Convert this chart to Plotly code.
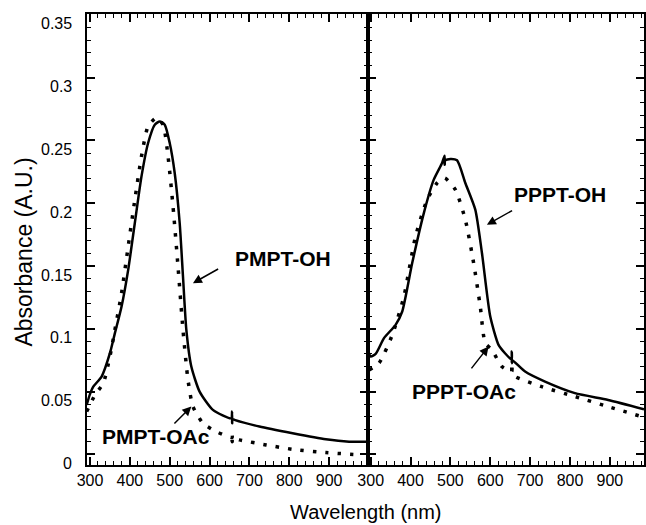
import plotly.graph_objects as go

# ---------------- data ----------------
# Left panel: PMPT
pmpt_oh_wl = [291.7, 300.0, 308.3, 329.2, 350.0, 362.5, 379.2, 395.8, 412.5, 429.2, 445.8, 462.5,
              475.0, 487.5, 500.0, 512.5, 525.0, 533.3, 541.7, 554.2, 575.0, 608.3, 654.2,
              656.5, 656.7, 656.9, 662.5, 725.0, 808.3, 891.7, 950.0, 996.0]
pmpt_oh_abs = [0.0395, 0.048, 0.054, 0.062, 0.0806, 0.0966, 0.1178, 0.147, 0.1843, 0.2214, 0.248, 0.2626,
               0.2652, 0.2626, 0.248, 0.2241, 0.1843, 0.1417, 0.0992, 0.070, 0.050, 0.0355, 0.0288,
               0.0341, 0.0249, 0.0282, 0.0275, 0.0222, 0.0169, 0.0121, 0.0102, 0.0102]

pmpt_oac_wl = [291.7, 312.5, 333.3, 350.0, 362.5, 379.2, 395.8, 412.5, 429.2, 445.8, 466.7,
               483.3, 495.8, 508.3, 520.8, 533.3, 545.8, 558.3, 583.3, 616.7, 656.3,
               656.5, 656.7, 656.9, 675.0, 741.7, 808.3, 891.7, 983.3]
pmpt_oac_abs = [0.0341, 0.0474, 0.0567, 0.078, 0.0992, 0.1285, 0.1656, 0.2028, 0.2373, 0.2613, 0.268,
                0.2626, 0.2373, 0.1975, 0.1497, 0.0992, 0.0594, 0.0381, 0.0249, 0.0182, 0.0135,
                0.0169, 0.0102, 0.0133, 0.0116, 0.0076, 0.0041, 0.0015, -0.0004]

# Right panel: PPPT
pppt_oh_wl = [291.6, 300.0, 312.4, 333.3, 362.4, 379.1, 404.1, 433.3, 458.2, 479.1,
              485.5, 485.7, 485.9, 499.9, 516.6, 537.4, 562.4, 579.1, 600.0, 620.75,
              637.0, 653.7, 653.9, 654.1, 654.3, 687.4, 737.4, 812.4, 895.75, 985.75]
pppt_oh_abs = [0.0846, 0.078, 0.0801, 0.0926, 0.1032, 0.1138, 0.1524, 0.1922, 0.2188, 0.2321,
               0.2379, 0.2307, 0.2340, 0.2353, 0.2342, 0.2161, 0.1949, 0.1604, 0.1098, 0.0873,
               0.0806, 0.0755, 0.0819, 0.0727, 0.0753, 0.066, 0.058, 0.0488, 0.0434, 0.036]

pppt_oac_wl = [295.75, 320.75, 354.1, 383.25, 412.4, 441.6, 466.6, 485.75, 512.4, 537.4,
               558.25, 574.9, 587.4, 604.1, 629.1, 653.7, 653.9, 654.1, 654.3, 662.4, 729.1,
               812.4, 895.75, 985.75]
pppt_oac_abs = [0.0673, 0.0727, 0.0952, 0.1258, 0.1736, 0.2028, 0.2161, 0.2201, 0.2108, 0.1869,
                0.1524, 0.1178, 0.0886, 0.0833, 0.070, 0.066, 0.0727, 0.0647, 0.065, 0.062, 0.054,
                0.0461, 0.0381, 0.0296]

x_tick_labels = ["300", "400", "500", "600", "700", "800", "900"]
x_tick_vals = [300, 400, 500, 600, 700, 800, 900]
y_tick_vals = [0, 0.05, 0.1, 0.15, 0.2, 0.25, 0.3, 0.35]
y_tick_labels = ["0", "0.05", "0.1", "0.15", "0.2", "0.25", "0.3", "0.35"]

# ---------------- layout constants ----------------
FONT = "Liberation Sans, Arial, Helvetica, sans-serif"
X_LEFT = [292.5, 996.75]
X_RIGHT = [292.5, 985.75]
Y_RANGE = [-0.0084, 0.3507]
SPLIT = 0.504

solid = dict(color="black", width=2.5, shape="spline", smoothing=0.6)
dotted = dict(color="black", width=3.5, dash="3.5px,9px", shape="spline", smoothing=0.6)

fig = go.Figure()
fig.add_trace(go.Scatter(x=pmpt_oh_wl, y=pmpt_oh_abs, mode="lines", line=solid,
                         xaxis="x", yaxis="y", showlegend=False, name="PMPT-OH"))
fig.add_trace(go.Scatter(x=pmpt_oac_wl, y=pmpt_oac_abs, mode="lines", line=dotted,
                         xaxis="x", yaxis="y", showlegend=False, name="PMPT-OAc"))
fig.add_trace(go.Scatter(x=pppt_oh_wl, y=pppt_oh_abs, mode="lines", line=solid,
                         xaxis="x2", yaxis="y2", showlegend=False, name="PPPT-OH"))
fig.add_trace(go.Scatter(x=pppt_oac_wl, y=pppt_oac_abs, mode="lines", line=dotted,
                         xaxis="x2", yaxis="y2", showlegend=False, name="PPPT-OAc"))

common = dict(showline=True, linecolor="black", linewidth=2, mirror="ticks",
              ticks="inside", ticklen=8, tickwidth=1.5, tickcolor="black",
              showgrid=False, zeroline=False)
tickfont = dict(family=FONT, size=16, color="black")

xcommon = dict(common, tickmode="array", tickvals=x_tick_vals, ticktext=x_tick_labels,
               tickfont=tickfont, ticklabelstandoff=0,
               minor=dict(ticks="inside", ticklen=4, tickwidth=1.2, tickcolor="black",
                          dtick=20, tick0=300, showgrid=False))
ycommon = dict(common, tickmode="array", tickvals=y_tick_vals, showticklabels=False,
               minor=dict(ticks="inside", ticklen=4, tickwidth=1.2, tickcolor="black",
                          dtick=0.01, tick0=0, showgrid=False))

fig.update_layout(
    width=646, height=525,
    margin=dict(l=87, r=0, t=14, b=60),
    paper_bgcolor="white", plot_bgcolor="white",
    xaxis=dict(xcommon, domain=[0, SPLIT], range=X_LEFT, anchor="y"),
    xaxis2=dict(xcommon, domain=[SPLIT, 1], range=X_RIGHT, anchor="y2"),
    yaxis=dict(ycommon, domain=[0, 1], range=Y_RANGE, anchor="x"),
    yaxis2=dict(ycommon, domain=[0, 1], range=Y_RANGE, anchor="x2"),
)

annotations = []
# y tick labels: in the reference they sit a little below their tick marks
for v, t in zip(y_tick_vals, y_tick_labels):
    annotations.append(dict(x=0, y=v, xref="paper", yref="y", text=t, showarrow=False,
                            font=tickfont, xanchor="right", yanchor="middle",
                            xshift=-13, yshift=-9))

lab_font = dict(family=FONT, size=21, color="black")
annotations += [
    # curve labels
    dict(x=783.25, y=0.1558, xref="x", yref="y", text="<b>PMPT-OH</b>", showarrow=False,
         font=lab_font, xanchor="center", yanchor="middle"),
    dict(x=464.5, y=0.0139, xref="x", yref="y", text="<b>PMPT-OAc</b>", showarrow=False,
         font=lab_font, xanchor="center", yanchor="middle"),
    dict(x=775, y=0.2068, xref="x2", yref="y2", text="<b>PPPT-OH</b>", showarrow=False,
         font=lab_font, xanchor="center", yanchor="middle"),
    dict(x=533.25, y=0.050, xref="x2", yref="y2", text="<b>PPPT-OAc</b>", showarrow=False,
         font=lab_font, xanchor="center", yanchor="middle"),
    # arrows
    dict(x=558.25, y=0.1364, xref="x", yref="y", ax=26.7, ay=-15, text="", showarrow=True,
         arrowhead=2, arrowsize=1.2, arrowwidth=1.5, arrowcolor="black"),
    dict(x=554.25, y=0.0381, xref="x", yref="y", ax=-18.4, ay=18.3, text="", showarrow=True,
         arrowhead=2, arrowsize=1.2, arrowwidth=1.5, arrowcolor="black"),
    dict(x=591.5, y=0.1829, xref="x2", yref="y2", ax=26.7, ay=-15, text="", showarrow=True,
         arrowhead=2, arrowsize=1.2, arrowwidth=1.5, arrowcolor="black"),
    dict(x=595.75, y=0.0859, xref="x2", yref="y2", ax=-18.3, ay=23.3, text="", showarrow=True,
         arrowhead=2, arrowsize=1.2, arrowwidth=1.5, arrowcolor="black"),
    # axis titles
    dict(x=0.5009, y=-0.104, xref="paper", yref="paper", text="Wavelength (nm)",
         showarrow=False, font=dict(family=FONT, size=20, color="black"),
         xanchor="center", yanchor="middle"),
    dict(x=-0.1127, y=0.4715, xref="paper", yref="paper", text="Absorbance (A.U.)",
         showarrow=False, textangle=-90, font=dict(family=FONT, size=23, color="black"),
         xanchor="center", yanchor="middle"),
]
fig.update_layout(annotations=annotations)

fig.write_html("out.html", config={"displayModeBar": False},
               post_script="document.body.style.margin='0px';")
